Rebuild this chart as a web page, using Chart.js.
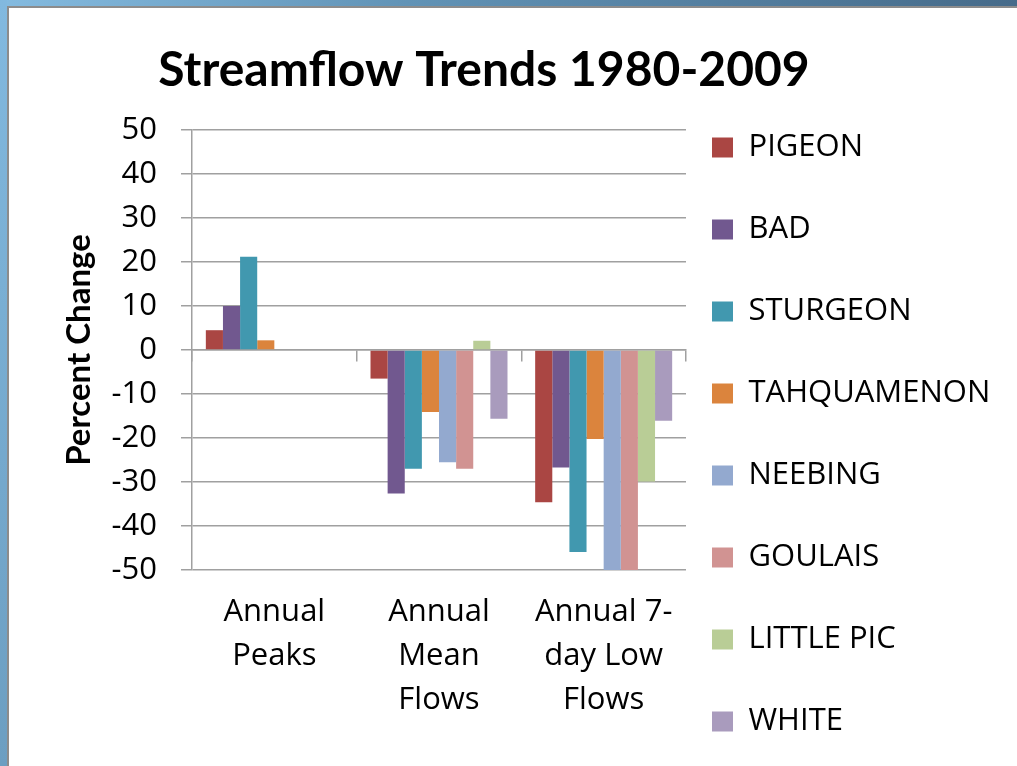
<!DOCTYPE html>
<html>
<head>
<meta charset="utf-8">
<script src="https://cdn.jsdelivr.net/npm/chart.js@4.4.1/dist/chart.umd.min.js"></script>
<style>
html,body{margin:0;padding:0;overflow:hidden;background:#ffffff;width:1017px;height:766px;}
#frameTop{position:absolute;left:0;top:0;width:1017px;height:6px;background:linear-gradient(to right,#84BBE0,#6193B6 40%,#466B8A);}
#frameLeft{position:absolute;left:0;top:0;width:7px;height:766px;background:linear-gradient(to bottom,#82B9DF,#6C9EC1);}
#lineTop{position:absolute;left:7px;top:6px;width:1010px;height:2px;background:#8C8C8C;}
#lineLeft{position:absolute;left:7px;top:6px;width:2px;height:760px;background:#8C8C8C;}
#wrap{position:absolute;left:-32px;top:0;width:1049px;height:894px;}
canvas{display:block;}
</style>
</head>
<body>
<div id="frameTop"></div>
<div id="frameLeft"></div>
<div id="lineTop"></div>
<div id="lineLeft"></div>
<div id="wrap"><canvas id="chart" width="1049" height="894" style="width:1049px;height:894px;"></canvas></div>
<script>
// ---- data ----
const categories = [['Annual', 'Peaks'], ['Annual', 'Mean', 'Flows'], ['Annual 7-', 'day Low', 'Flows']];
const seriesNames = ['PIGEON', 'BAD', 'STURGEON', 'TAHQUAMENON', 'NEEBING', 'GOULAIS', 'LITTLE PIC', 'WHITE'];
const pigeon      = [4.5, -6.5, -34.6];
const bad         = [10.0, -32.6, -26.7];
const sturgeon    = [21.2, -27.0, -45.9];
const tahquamenon = [2.2, -14.1, -20.2];
const neebing     = [null, -25.5, -50.0];
const goulais     = [null, -27.0, -50.0];
const littlePic   = [null, 2.1, -29.9];
const white       = [null, -15.6, -16.1];
const yMin = -50, yMax = 50, yStep = 10;
const chartTitle = 'Streamflow Trends 1980-2009';
const yAxisTitle = 'Percent Change';

// ---- styles ----
const seriesValues = [pigeon, bad, sturgeon, tahquamenon, neebing, goulais, littlePic, white];
const seriesColors = ['#AA4643', '#71588F', '#4198AF', '#DB843D', '#93A9CF', '#D19392', '#B9CD96', '#A99BBD'];
const axisGray = '#A0A0A0';
const tickFont = {family: "'Open Sans', sans-serif", size: 31};

const datasets = seriesNames.map((name, i) => ({
  label: name,
  data: seriesValues[i],
  backgroundColor: seriesColors[i],
  borderWidth: 0,
  barPercentage: 1.0,
  categoryPercentage: 0.832,
  xAxisID: 'x',
  yAxisID: 'y'
}));

new Chart(document.getElementById('chart'), {
  type: 'bar',
  data: {labels: categories, datasets: datasets},
  options: {
    responsive: false,
    animation: false,
    devicePixelRatio: 1,
    layout: {padding: {top: 0, left: 0, right: 17, bottom: 0}},
    plugins: {
      tooltip: {enabled: false},
      title: {
        display: true,
        text: chartTitle,
        color: '#000000',
        font: {family: "Lato, sans-serif", size: 48, weight: 'bold', lineHeight: 1.2},
        padding: {top: 42, bottom: 30.4}
      },
      legend: {
        display: true,
        position: 'right',
        align: 'center',
        maxWidth: 314,
        labels: {
          boxWidth: 21,
          boxHeight: 20,
          padding: 26,
          color: '#000000',
          font: {family: "'Open Sans', sans-serif", size: 31, lineHeight: 56 / 31},
          generateLabels(chart) {
            const items = Chart.defaults.plugins.legend.labels.generateLabels(chart);
            items.forEach(it => { it.text = [it.text]; it.lineWidth = 0; it.strokeStyle = 'rgba(0,0,0,0)'; });
            return items;
          }
        }
      }
    },
    scales: {
      x: {
        type: 'category',
        position: 'bottom',
        offset: true,
        grid: {display: false, offset: true},
        border: {display: false},
        ticks: {color: '#000000', font: {...tickFont, lineHeight: 44 / 31}, padding: 12, maxRotation: 0, minRotation: 0, autoSkip: false},
        afterFit(scale) { scale.height = 324; }
      },
      x0: {
        type: 'category',
        position: {y: 0},
        offset: true,
        grid: {display: true, offset: true, drawOnChartArea: false, drawTicks: true, tickLength: 11, color: axisGray, lineWidth: 1.5},
        border: {display: true, color: axisGray, width: 1.5},
        ticks: {display: false}
      },
      y: {
        type: 'linear',
        position: 'left',
        min: yMin,
        max: yMax,
        ticks: {stepSize: yStep, color: '#000000', font: tickFont, padding: 24},
        grid: {color: axisGray, lineWidth: 1.5, drawTicks: true, tickLength: 11},
        border: {display: true, color: axisGray, width: 1.5},
        title: {
          display: true,
          text: yAxisTitle,
          color: '#000000',
          font: {family: "Lato, sans-serif", size: 33, weight: 'bold', lineHeight: 1.2},
          padding: {top: 92, bottom: 0}
        },
        afterFit(scale) { scale.width = 224; }
      }
    }
  }
});
</script>
</body>
</html>
